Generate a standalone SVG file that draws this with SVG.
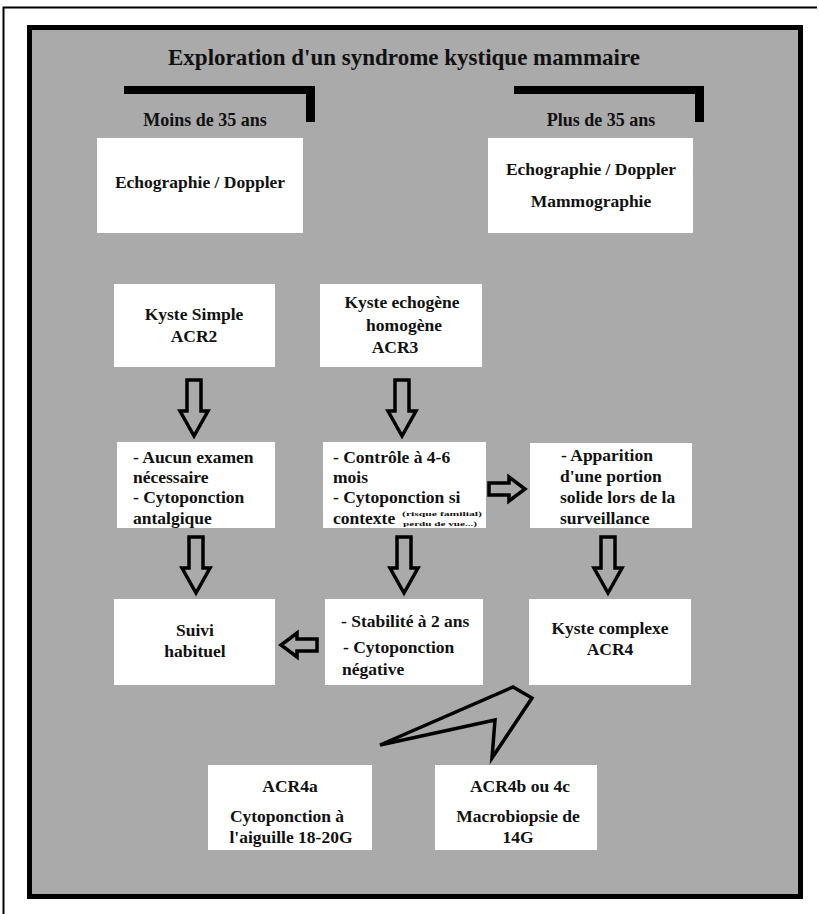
<svg xmlns="http://www.w3.org/2000/svg" width="819" height="914" viewBox="0 0 819 914">
  <style>
    .t { font-family: "Liberation Serif", "Times New Roman", serif; font-weight: bold; font-size: 17.5px; fill: #111; }
    .c { text-anchor: middle; }
    .s { font-size: 7px; }
    .box { fill: #ffffff; }
    .arrow { fill: none; stroke: #000; stroke-width: 3.5; stroke-linejoin: miter; }
    .bar { fill: #000; }
  </style>
  <defs>
    <!-- hollow block arrow pointing down; origin at top centre -->
    <path id="arrowDown" class="arrow" d="M-7,0 H7 V31 H14 L0,56 L-14,31 H-7 Z"/>
    <!-- hollow block arrow pointing right; origin at left, vertical centre -->
    <path id="arrowRight" class="arrow" d="M0,-6 H20 V-12 L36,0 L20,12 V6 H0 Z"/>
  </defs>

  <!-- page frame -->
  <rect x="0" y="0" width="819" height="914" fill="#ffffff"/>
  <path d="M3.5,914 V7.5 H817" fill="none" stroke="#000" stroke-width="2"/>

  <!-- grey panel -->
  <rect x="29.5" y="27.5" width="771" height="869" fill="#aaaaaa" stroke="#000" stroke-width="5"/>

  <text class="t c" x="404" y="65" style="font-size:23px">Exploration d'un syndrome kystique mammaire</text>

  <!-- age brackets -->
  <g id="age-young">
    <rect class="bar" x="124" y="86" width="191" height="8"/>
    <rect class="bar" x="306" y="86" width="9" height="36"/>
    <text class="t c" x="205" y="126" style="font-size:18px">Moins de 35 ans</text>
  </g>
  <g id="age-old">
    <rect class="bar" x="514" y="86" width="190" height="8"/>
    <rect class="bar" x="695" y="86" width="9" height="36"/>
    <text class="t c" x="601" y="126" style="font-size:18px">Plus de 35 ans</text>
  </g>

  <!-- imaging -->
  <g id="imaging-young">
    <rect class="box" x="97" y="138" width="206" height="95"/>
    <text class="t c" x="200" y="188">Echographie / Doppler</text>
  </g>
  <g id="imaging-old">
    <rect class="box" x="488" y="138" width="205" height="95"/>
    <text class="t c" x="591" y="175">Echographie / Doppler</text>
    <text class="t c" x="591" y="207">Mammographie</text>
  </g>

  <!-- classification -->
  <g id="acr2">
    <rect class="box" x="114" y="284" width="161" height="83"/>
    <text class="t c" x="194" y="320">Kyste Simple</text>
    <text class="t c" x="194" y="342">ACR2</text>
  </g>
  <g id="acr3">
    <rect class="box" x="320" y="284" width="162" height="83"/>
    <text class="t c" x="402" y="308">Kyste echogène</text>
    <text class="t c" x="404" y="331">homogène</text>
    <text class="t c" x="395" y="353">ACR3</text>
  </g>

  <!-- management -->
  <g id="acr2-management">
    <rect class="box" x="117" y="442" width="158" height="86"/>
    <text class="t" x="133" y="463">- Aucun examen</text>
    <text class="t" x="133" y="483">nécessaire</text>
    <text class="t" x="133" y="503">- Cytoponction</text>
    <text class="t" x="133" y="524">antalgique</text>
  </g>
  <g id="acr3-management">
    <rect class="box" x="323" y="442" width="163" height="86"/>
    <text class="t" x="333" y="463">- Contrôle à 4-6</text>
    <text class="t" x="333" y="483">mois</text>
    <text class="t" x="333" y="503">- Cytoponction si</text>
    <text class="t" x="333" y="524">contexte</text>
    <text class="t s" x="402" y="516" textLength="80" lengthAdjust="spacingAndGlyphs">(risque familial)</text>
    <text class="t s" x="403" y="525.5" textLength="74" lengthAdjust="spacingAndGlyphs">perdu de vue...)</text>
  </g>
  <g id="solid-portion">
    <rect class="box" x="530" y="443" width="162" height="85"/>
    <text class="t" x="561" y="461">- Apparition</text>
    <text class="t" x="560" y="482">d'une portion</text>
    <text class="t" x="560" y="503">solide lors de la</text>
    <text class="t" x="560" y="524">surveillance</text>
  </g>

  <!-- outcomes -->
  <g id="routine-follow-up">
    <rect class="box" x="114" y="599" width="161" height="86"/>
    <text class="t c" x="195" y="636">Suivi</text>
    <text class="t c" x="195" y="657">habituel</text>
  </g>
  <g id="stability">
    <rect class="box" x="325" y="599" width="158" height="86"/>
    <text class="t" x="341" y="627">- Stabilité à 2 ans</text>
    <text class="t" x="343" y="653">- Cytoponction</text>
    <text class="t" x="342" y="675">négative</text>
  </g>
  <g id="acr4">
    <rect class="box" x="529" y="599" width="162" height="86"/>
    <text class="t c" x="610" y="634">Kyste complexe</text>
    <text class="t c" x="610" y="655">ACR4</text>
  </g>

  <!-- ACR4 subgroups -->
  <g id="acr4a">
    <rect class="box" x="208" y="765" width="164" height="85"/>
    <text class="t c" x="290" y="792">ACR4a</text>
    <text class="t c" x="287" y="822">Cytoponction à</text>
    <text class="t c" x="291" y="843">l'aiguille 18-20G</text>
  </g>
  <g id="acr4bc">
    <rect class="box" x="435" y="765" width="162" height="85"/>
    <text class="t c" x="520" y="792">ACR4b ou 4c</text>
    <text class="t c" x="518" y="822">Macrobiopsie de</text>
    <text class="t c" x="518" y="843">14G</text>
  </g>

  <!-- connectors -->
  <g id="connectors">
    <use href="#arrowDown" x="194" y="380"/>
    <use href="#arrowDown" x="402" y="380"/>
    <use href="#arrowDown" x="196" y="537"/>
    <use href="#arrowDown" x="404" y="537"/>
    <use href="#arrowDown" x="608" y="537"/>
    <use href="#arrowRight" x="489" y="489"/>
    <use href="#arrowRight" transform="translate(317,645) scale(-1,1)"/>
    <polygon points="380,745 513,687 532,698 492,758 495,720" fill="none" stroke="#000" stroke-width="3.5" stroke-linejoin="miter"/>
  </g>
</svg>
